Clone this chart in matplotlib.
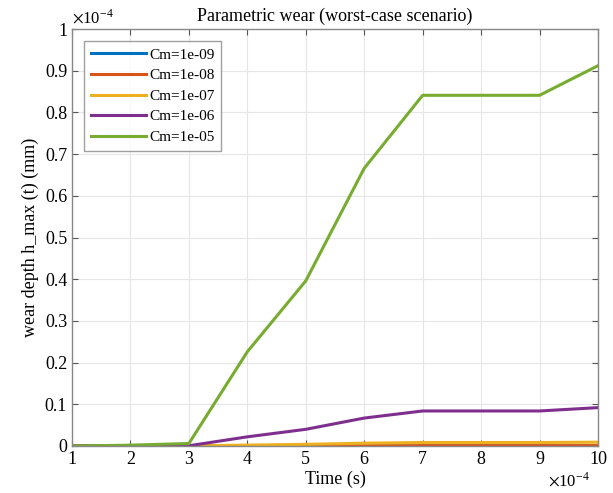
import matplotlib
matplotlib.use("Agg")
import matplotlib.pyplot as plt
import numpy as np

plt.rcParams['font.family'] = ['Liberation Serif', 'DejaVu Serif']
plt.rcParams['mathtext.fontset'] = 'stix'

time_s = np.array([1, 2, 3, 4, 5, 6, 7, 8, 9, 10]) * 1e-4
labels = ["Cm=1e-09", "Cm=1e-08", "Cm=1e-07", "Cm=1e-06", "Cm=1e-05"]
colors = ["#0072BD", "#D95319", "#EDB120", "#7E2F8E", "#77AC30"]
wear_1e09 = np.array([0, 0.0000002, 0.0000006, 0.000022, 0.00004, 0.000067, 0.000084, 0.000084, 0.000084, 0.000091]) * 1e-4
wear_1e08 = np.array([0, 0.000002, 0.000006, 0.00022, 0.0004, 0.00067, 0.00084, 0.00084, 0.00084, 0.00091]) * 1e-4
wear_1e07 = np.array([0, 0.00002, 0.00006, 0.0022, 0.004, 0.0067, 0.0084, 0.0084, 0.0084, 0.0091]) * 1e-4
wear_1e06 = np.array([0, 0.0002, 0.0006, 0.022, 0.040, 0.067, 0.084, 0.084, 0.084, 0.092]) * 1e-4
wear_1e05 = np.array([0, 0.002, 0.006, 0.226, 0.396, 0.666, 0.841, 0.841, 0.841, 0.912]) * 1e-4
series = [wear_1e09, wear_1e08, wear_1e07, wear_1e06, wear_1e05]

fig = plt.figure(figsize=(6.13, 4.93), dpi=100)
ax = fig.add_axes([72/613, 1-446/493, (598-72)/613, (446-29)/493])

for y, c, lab in zip(series, colors, labels):
    ax.plot(time_s * 1e4, y * 1e4, color=c, lw=2.2, label=lab)

ax.set_xlim(1, 10)
ax.set_ylim(0, 1)
ax.set_xticks(np.arange(1, 11))
ax.set_yticks(np.round(np.arange(0, 1.01, 0.1), 1))
ax.set_yticklabels(["0"] + [f"{v:.1f}" for v in np.arange(0.1, 0.95, 0.1)] + ["1"])
ax.grid(True, color="#e6e6e6", lw=0.8)
ax.tick_params(direction="in", top=True, right=True, labelsize=13, length=4, color="#555555")
for s in ax.spines.values():
    s.set_color("#888888")
    s.set_linewidth(1.0)

ax.set_title("Parametric wear (worst-case scenario)", fontsize=13, pad=6)
ax.set_xlabel("Time (s)", fontsize=13, labelpad=2)
ax.set_ylabel("wear depth h_max (t) (mm)", fontsize=13, labelpad=4)
ax.text(0.0, 1.005, r"$\times$10$^{\mathregular{-4}}$", transform=ax.transAxes, fontsize=12, ha="left", va="bottom")
ax.text(0.985, -0.083, r"$\times$10$^{\mathregular{-4}}$", transform=ax.transAxes, fontsize=12, ha="right", va="center")

leg = ax.legend(loc="upper left", fontsize=11, frameon=True, fancybox=False,
                edgecolor="#888888", handlelength=3.6, handletextpad=0.2,
                labelspacing=0.45, borderaxespad=0.8, borderpad=0.45)
leg.get_frame().set_linewidth(1.0)

fig.savefig("out.png", dpi=100)
